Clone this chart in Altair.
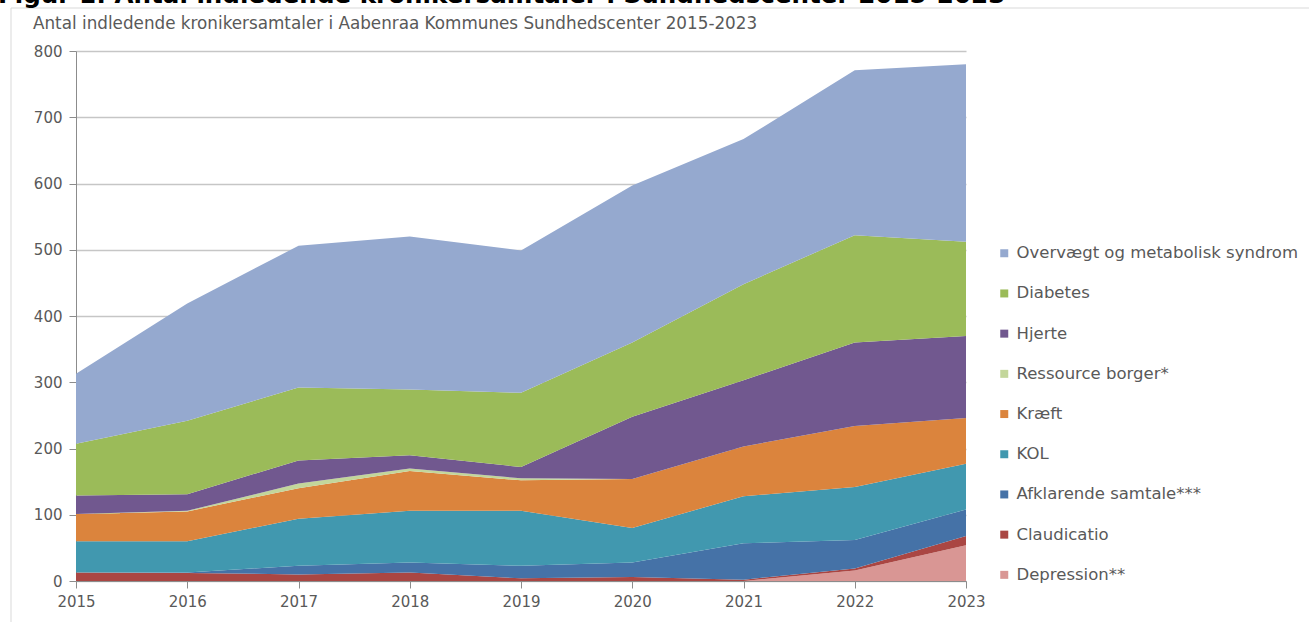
import altair as alt
import pandas as pd

# Antal indledende kronikersamtaler pr. forløbstype, 2015-2023
years = [2015, 2016, 2017, 2018, 2019, 2020, 2021, 2022, 2023]
depression = [0, 0, 0, 0, 0, 0, 0, 16, 54]
claudicatio = [13, 12, 10, 13, 4, 6, 2, 3, 14]
afklarende = [0, 1, 13, 15, 19, 22, 55, 43, 40]
kol = [47, 47, 71, 78, 83, 52, 71, 80, 69]
kraeft = [41, 45, 46, 60, 46, 74, 75, 92, 69]
ressource = [0, 1, 7, 4, 3, 0, 0, 0, 0]
hjerte = [28, 25, 35, 20, 17, 94, 100, 126, 124]
diabetes = [78, 111, 110, 99, 112, 112, 145, 162, 142]
overvaegt = [106, 177, 214, 231, 215, 237, 219, 249, 268]

# bottom of the stack first
series = [
    ("Depression**", depression, "#D99694"),
    ("Claudicatio", claudicatio, "#AA4643"),
    ("Afklarende samtale***", afklarende, "#4572A7"),
    ("KOL", kol, "#4198AF"),
    ("Kræft", kraeft, "#DB843D"),
    ("Ressource borger*", ressource, "#C3D69B"),
    ("Hjerte", hjerte, "#71588F"),
    ("Diabetes", diabetes, "#9BBB59"),
    ("Overvægt og metabolisk syndrom", overvaegt, "#95A9CF"),
]

rows = []
for idx, (name, vals, _) in enumerate(series):
    for yr, v in zip(years, vals):
        rows.append({"år": yr, "antal": v, "type": name, "rk": idx})
df = pd.DataFrame(rows)

legend_order = [s[0] for s in series][::-1]
legend_colors = [s[2] for s in series][::-1]

FONT = "DejaVu Sans"
GREY = "#595959"
W, H = 890, 530
LEFT, TOP = 76, 51

areas = alt.Chart(df).mark_area(opacity=1, strokeWidth=0).encode(
    x=alt.X(
        "år:Q",
        scale=alt.Scale(domain=[2015, 2023], nice=False, zero=False),
        axis=alt.Axis(
            values=years, format="d", title=None, grid=False,
            tickSize=7, tickColor="#8C8C8C", domainColor="#8C8C8C",
            labelFontSize=15, labelColor=GREY, labelFont=FONT, labelPadding=6,
            labelFlush=False, labelOverlap=False,
        ),
    ),
    y=alt.Y(
        "antal:Q",
        stack="zero",
        scale=alt.Scale(domain=[0, 800], nice=False),
        axis=alt.Axis(
            values=list(range(0, 801, 100)), title=None, grid=True,
            gridColor="#C6C6C6", gridWidth=1.5,
            tickSize=7, tickColor="#8C8C8C", domainColor="#8C8C8C",
            labelFontSize=15, labelColor=GREY, labelFont=FONT, labelPadding=7,
        ),
    ),
    color=alt.Color(
        "type:N",
        scale=alt.Scale(domain=legend_order, range=legend_colors),
        legend=alt.Legend(
            title=None, orient="none", legendX=920, legendY=194,
            direction="vertical", symbolType="square", symbolSize=64,
            symbolStrokeWidth=0, symbolOpacity=1,
            labelFontSize=16.5, labelFont=FONT, labelColor=GREY,
            labelOffset=4, rowPadding=23.2, labelLimit=400,
        ),
    ),
    order=alt.Order("rk:Q", sort="ascending"),
)

one = pd.DataFrame({"t": [""]})

subtitle = alt.Chart(one).mark_text(
    text="Antal indledende kronikersamtaler i Aabenraa Kommunes Sundhedscenter 2015-2023",
    align="left", baseline="alphabetic", font=FONT, fontSize=16.8, color=GREY,
).encode(x=alt.value(33 - LEFT), y=alt.value(29 - TOP))

heading = alt.Chart(one).mark_text(
    text="Figur 1: Antal indledende kronikersamtaler i Sundhedscenter 2015-2023",
    align="left", baseline="alphabetic", font=FONT, fontSize=24.6,
    fontWeight="bold", color="#000000",
).encode(x=alt.value(-2 - LEFT), y=alt.value(3 - TOP))

frame_top = alt.Chart(one).mark_rule(color="#D9D9D9", strokeWidth=1).encode(
    x=alt.value(11 - LEFT), x2=alt.value(1309 - LEFT), y=alt.value(8 - TOP)
)
frame_left = alt.Chart(one).mark_rule(color="#D9D9D9", strokeWidth=1).encode(
    x=alt.value(11 - LEFT), y=alt.value(8 - TOP), y2=alt.value(622 - TOP)
)

chart = alt.layer(frame_top, frame_left, heading, subtitle, areas).properties(
    width=W, height=H,
    autosize=alt.AutoSizeParams(type="none"),
    padding={"left": LEFT, "top": TOP, "right": 1309 - LEFT - W, "bottom": 622 - TOP - H},
    background="#FFFFFF",
).configure_view(stroke=None)

chart.save("out.html", embed_options={"renderer": "svg", "actions": False})
